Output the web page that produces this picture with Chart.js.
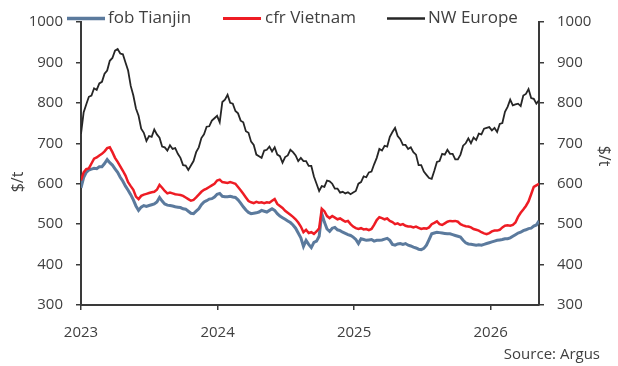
<!DOCTYPE html>
<html>
<head>
<meta charset="utf-8">
<title>Prices</title>
<script src="https://cdn.jsdelivr.net/npm/chart.js@4.4.1/dist/chart.umd.min.js"></script>
<style>
  html, body { margin: 0; padding: 0; background: #fff; }
  #wrap { width: 618px; height: 366px; }
</style>
</head>
<body>
<div id="wrap"><canvas id="priceChart" width="618" height="366"></canvas></div>
<script>
// weekly assessments, $/t, first week starting 2 Jan 2023
const startYear = 2023;

const fobTianjin = [
  590, 615, 628, 634, 636, 638, 637, 642, 642, 650, 660, 652, 646, 637, 628, 616, 606, 594, 584, 573,
  560, 545, 534, 542, 546, 544, 546, 548, 550, 555, 566, 557, 550, 547, 546, 545, 543, 542, 541, 538,
  537, 532, 527, 526, 532, 538, 548, 555, 558, 562, 563, 567, 574, 576, 569, 568, 568, 569, 567, 566,
  560, 552, 543, 535, 529, 526, 527, 528, 530, 534, 532, 530, 534, 538, 534, 526, 520, 516, 512, 508,
  504, 498, 490, 478, 466, 445, 460, 450, 442, 455, 458, 470, 526, 505, 488, 482, 490, 492, 486, 484,
  480, 477, 474, 472, 468, 462, 452, 464, 462, 460, 461, 462, 458, 460, 460, 461, 463, 465, 460, 450,
  448, 451, 452, 450, 452, 448, 446, 443, 441, 438, 437, 440, 448, 462, 476, 478, 480, 479, 478, 477,
  476, 476, 474, 472, 470, 468, 460, 454, 451, 450, 449, 448, 449, 448, 450, 452, 454, 456, 458, 460,
  461, 462, 464, 464, 466, 470, 474, 478, 480, 484, 486, 489, 490, 495, 498, 508
];

const cfrVietnam = [
  608, 628, 636, 638, 650, 662, 665, 670, 674, 680, 688, 690, 678, 664, 654, 643, 632, 620, 604, 594,
  585, 568, 562, 570, 573, 575, 577, 579, 580, 585, 597, 590, 582, 576, 578, 576, 574, 573, 572, 570,
  566, 562, 558, 560, 566, 573, 580, 585, 588, 592, 596, 600, 608, 610, 604, 603, 602, 604, 602, 600,
  592, 584, 575, 566, 557, 554, 552, 555, 553, 554, 552, 554, 553, 558, 562, 550, 545, 540, 533, 528,
  523, 518, 512, 504, 494, 480, 486, 478, 480, 476, 482, 490, 538, 532, 520, 515, 520, 516, 512, 514,
  510, 506, 508, 500, 494, 490, 488, 490, 487, 488, 485, 488, 498, 510, 517, 515, 512, 514, 508, 505,
  500, 502, 498, 500, 496, 494, 494, 492, 494, 491, 488, 490, 489, 492, 500, 503, 507, 500, 498, 502,
  506, 508, 507, 508, 506, 500, 497, 495, 494, 492, 488, 486, 484, 480, 477, 475, 478, 482, 484, 484,
  486, 492, 496, 497, 496, 498, 504, 518, 528, 536, 545, 556, 574, 592, 596, 600
];

const nwEurope = [
  723, 776, 796, 815, 818, 836, 832, 848, 852, 872, 880, 904, 911, 929, 933, 922, 920, 900, 880, 842,
  818, 786, 768, 736, 726, 706, 718, 716, 734, 722, 714, 692, 690, 682, 695, 686, 688, 674, 664, 646,
  645, 634, 645, 656, 678, 690, 713, 722, 741, 742, 756, 762, 768, 752, 802, 808, 820, 800, 798, 780,
  774, 756, 752, 730, 726, 704, 696, 672, 668, 664, 682, 684, 692, 680, 690, 672, 668, 652, 666, 670,
  684, 678, 670, 656, 664, 656, 656, 644, 644, 618, 600, 582, 594, 592, 608, 606, 600, 588, 588, 578,
  580, 576, 579, 574, 578, 582, 600, 604, 618, 616, 628, 630, 648, 664, 686, 682, 694, 692, 716, 728,
  738, 718, 710, 696, 696, 686, 690, 678, 672, 646, 646, 630, 622, 614, 612, 632, 654, 656, 674, 672,
  684, 674, 674, 660, 660, 672, 694, 700, 712, 700, 714, 708, 724, 722, 736, 738, 740, 732, 738, 728,
  748, 750, 778, 790, 808, 794, 796, 798, 792, 818, 822, 834, 812, 810, 798, 806
];

const seriesLabels = ['fob Tianjin', 'cfr Vietnam', 'NW Europe'];
const seriesColors = ['#5b7a9d', '#ee1c24', '#262626'];
const seriesWidths = [3, 2.5, 1.8];
const yearTicks = [2023, 2024, 2025, 2026];
const priceTicks = [300, 400, 500, 600, 700, 800, 900, 1000];

const axisColor = '#3a3a3a';
const textColor = '#404040';
const fontFamily = '"Open Sans", "Noto Sans", sans-serif';

function toPoints(values) {
  return values.map((v, i) => ({ x: startYear + (i * 7) / 365.25, y: v }));
}

const lastX = startYear + ((fobTianjin.length - 1) * 7) / 365.25;

// legend, axis titles and source line drawn by hand so they can sit in the margins
const decorations = {
  id: 'decorations',
  afterDraw(chart) {
    const ctx = chart.ctx;
    ctx.save();

    const legendItems = [
      { lineX: 67, textX: 108 },
      { lineX: 223, textX: 265 },
      { lineX: 387, textX: 428 }
    ];
    ctx.font = '17px ' + fontFamily;
    ctx.textBaseline = 'middle';
    ctx.textAlign = 'left';
    legendItems.forEach((item, idx) => {
      ctx.strokeStyle = seriesColors[idx];
      ctx.lineWidth = seriesWidths[idx] + 0.5;
      ctx.beginPath();
      ctx.moveTo(item.lineX, 18.5);
      ctx.lineTo(item.lineX + 38, 18.5);
      ctx.stroke();
      ctx.fillStyle = textColor;
      ctx.fillText(seriesLabels[idx], item.textX, 18);
    });

    ctx.font = '16px ' + fontFamily;
    ctx.fillStyle = textColor;
    ctx.textAlign = 'center';

    // left title reads upward, right one reads downward
    ctx.save();
    ctx.translate(18, 182);
    ctx.rotate(-Math.PI / 2);
    ctx.fillText('$/t', 0, 0);
    ctx.restore();

    ctx.save();
    ctx.translate(604, 156);
    ctx.rotate(Math.PI / 2);
    ctx.fillText('$/t', 0, 0);
    ctx.restore();

    ctx.font = '15px ' + fontFamily;
    ctx.textAlign = 'right';
    ctx.fillText('Source: Argus', 600, 355);

    ctx.restore();
  }
};

const tickFont = { family: fontFamily, size: 15 };

const priceAxis = (position, width) => ({
  type: 'linear',
  position: position,
  min: 300,
  max: 1000,
  afterBuildTicks: scale => { scale.ticks = priceTicks.map(v => ({ value: v })); },
  afterFit: scale => { scale.width = width; },
  border: { display: true, color: axisColor, width: 2 },
  grid: { display: true, drawOnChartArea: false, drawTicks: true, tickLength: 5, color: axisColor, lineWidth: 1.5 },
  ticks: { color: textColor, font: tickFont, padding: 13, callback: v => String(v) }
});

new Chart(document.getElementById('priceChart'), {
  type: 'line',
  data: {
    datasets: [fobTianjin, cfrVietnam, nwEurope].map((values, idx) => ({
      label: seriesLabels[idx],
      data: toPoints(values),
      borderColor: seriesColors[idx],
      borderWidth: seriesWidths[idx],
      pointRadius: 0,
      tension: 0,
      fill: false,
      yAxisID: 'y'
    })).reverse()
  },
  options: {
    responsive: false,
    animation: false,
    devicePixelRatio: 1,
    layout: { padding: { top: 21, left: 0, right: 0, bottom: 0 } },
    plugins: {
      legend: { display: false },
      tooltip: { enabled: false }
    },
    scales: {
      x: {
        type: 'linear',
        min: startYear,
        max: lastX,
        afterBuildTicks: scale => { scale.ticks = yearTicks.map(v => ({ value: v })); },
        afterFit: scale => { scale.height = 61; },
        border: { display: true, color: axisColor, width: 2 },
        grid: { display: true, drawOnChartArea: false, drawTicks: true, tickLength: 5, color: axisColor, lineWidth: 1.5 },
        ticks: { color: textColor, font: tickFont, padding: 14, maxRotation: 0, callback: v => String(v) }
      },
      y: priceAxis('left', 81),
      y2: priceAxis('right', 79)
    }
  },
  plugins: [decorations]
});
</script>
</body>
</html>
